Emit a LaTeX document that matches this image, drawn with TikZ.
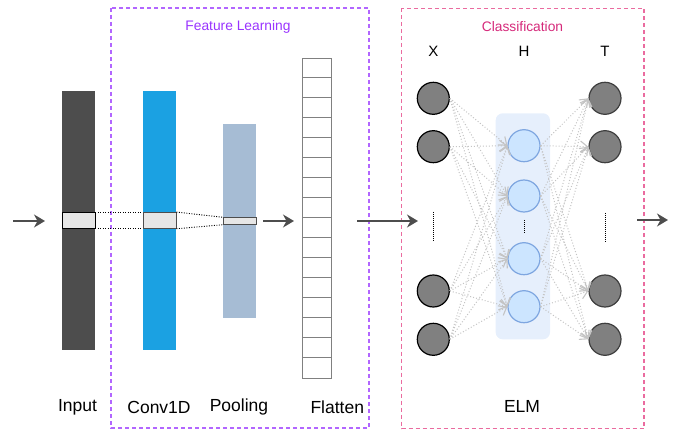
\documentclass[tikz,border=0pt]{standalone}
\usepackage{fontspec}
\setmainfont{Liberation Sans}
\usetikzlibrary{arrows.meta,calc}
\definecolor{darkbar}{HTML}{4D4D4D}
\definecolor{convblue}{HTML}{1BA1E2}
\definecolor{poolblue}{HTML}{A6BCD4}
\definecolor{lightgrey}{HTML}{E6E6E6}
\definecolor{flatgrey}{HTML}{808080}
\definecolor{featpurple}{HTML}{B266FF}
\definecolor{feattext}{HTML}{9933FF}
\definecolor{classpink}{HTML}{EA6B9F}
\definecolor{classtext}{HTML}{D5297A}
\definecolor{hfill}{HTML}{CCE5FF}
\definecolor{hdraw}{HTML}{7EA6E0}
\definecolor{hback}{HTML}{E6EFFC}
\definecolor{nodegrey}{HTML}{808080}
\definecolor{linkgrey}{HTML}{C4C4C4}
\tikzset{
  bar/.style={draw=none,inner sep=0,minimum width=33pt},
  slot/.style={draw=black,fill=lightgrey,line width=0.9pt,inner sep=0,minimum width=33pt},
  bigarrow/.style={draw=darkbar,line width=1.4pt,-{Stealth[length=11pt,width=13pt,inset=3.5pt]}},
  dotlink/.style={draw=black,line width=0.9pt,dash pattern=on 1pt off 1.5pt},
  grpbox/.style={line width=1.6pt,dash pattern=on 4pt off 3pt},
  xnode/.style={circle,draw=black,fill=nodegrey,line width=1.2pt,minimum size=32pt,inner sep=0},
  tnode/.style={circle,draw=darkbar!80!black,fill=nodegrey,line width=1.2pt,minimum size=32pt,inner sep=0},
  hnode/.style={circle,draw=hdraw,fill=hfill,line width=1.2pt,minimum size=32pt,inner sep=0},
  link/.style={draw=linkgrey,line width=1pt,dash pattern=on 1pt off 2pt,-{Straight Barb[length=7pt,width=11pt,line width=1.1pt]}},
  lbl/.style={font=\fontsize{17.5}{20}\selectfont,inner sep=0},
  collbl/.style={font=\fontsize{15}{17}\selectfont,inner sep=0},
  ttl/.style={font=\fontsize{13.8}{16}\selectfont,inner sep=0},
  vdots/.style={draw=black,line width=1pt,dash pattern=on 1pt off 1pt}
}
\begin{document}
\begin{tikzpicture}[x=1pt,y=-1pt]
\path[use as bounding box] (0,0) rectangle (689,433);
% group boxes
\draw[grpbox,draw=featpurple] (111,8) rectangle (369,428);
\node[ttl,text=feattext] (ftitle) at (238,27) {Feature Learning};
\draw[grpbox,draw=classpink] (401.5,8.5) rectangle (644,428.5);
\node[ttl,text=classtext] (ctitle) at (522.5,27) {Classification};
% bars
\node[bar,fill=darkbar,minimum height=259pt] (inbar) at (78.5,220.5) {};
\node[bar,fill=convblue,minimum height=259pt] (convbar) at (159.5,220.5) {};
\node[bar,fill=poolblue,minimum height=194pt] (poolbar) at (239.5,221) {};
\node[slot,minimum height=15.8pt] (inslot) at (78.5,220.4) {};
\node[slot,draw=darkbar,minimum height=15.8pt] (convslot) at (159.5,220.4) {};
\node[slot,draw=darkbar,minimum height=6.6pt] (poolslot) at (239.5,221) {};
\draw[dotlink] (inslot.north east) -- (convslot.north west);
\draw[dotlink] (inslot.south east) -- (convslot.south west);
\draw[dotlink] (convslot.north east) -- (poolslot.north west);
\draw[dotlink] (convslot.south east) -- (poolslot.south west);
% flatten
\node[draw=flatgrey,line width=1.3pt,inner sep=0,minimum width=28.6pt,minimum height=320pt] (flat) at (317,218.3) {};
\foreach \i in {1,...,15}{
  \draw[flatgrey,line width=1.3pt] ($(flat.north west)+(0,20*\i)$) -- ($(flat.north east)+(0,20*\i)$);
}
% arrows
\coordinate (a0) at (13,221);
\coordinate (a1) at (45,221);
\coordinate (b0) at (263,221);
\coordinate (b1) at (294,221);
\coordinate (c0) at (357,221);
\coordinate (c1) at (418,221);
\coordinate (d0) at (637,220);
\coordinate (d1) at (668,220);
\draw[bigarrow] (a0) -- (a1);
\draw[bigarrow] (b0) -- (b1);
\draw[bigarrow] (c0) -- (c1);
\draw[bigarrow] (d0) -- (d1);
% ELM
\node[collbl] (xl) at (433.3,51) {X};
\node[collbl] (hl) at (524,51) {H};
\node[collbl] (tl) at (605,51) {T};
\draw[fill=hback,draw=none,rounded corners=7pt] (495.7,113.3) rectangle (550,339.3);
\foreach \n/\y in {1/98.3,2/146.7,3/291,4/339.3}{
  \node[xnode] (x\n) at (433.3,\y) {};
  \node[tnode] (t\n) at (605,\y) {};
}
\foreach \n/\y in {1/145.7,2/196,3/258.7,4/306.7}{
  \node[hnode] (h\n) at (524,\y) {};
}
\foreach \i in {1,...,4}{
  \foreach \j in {1,...,4}{
    \draw[link] (x\i.east) -- (h\j.west);
    \draw[link] (h\i.east) -- (t\j.west);
  }
}
\coordinate (xd0) at (433.3,212);
\coordinate (xd1) at (433.3,242);
\coordinate (td0) at (605,213);
\coordinate (td1) at (605,243);
\coordinate (hd0) at (524,220);
\coordinate (hd1) at (524,234);
\draw[vdots] (xd0) -- (xd1);
\draw[vdots] (td0) -- (td1);
\draw[vdots] (hd0) -- (hd1);
% labels
\node[lbl] (linput) at (77.5,407) {Input};
\node[lbl] (lconv) at (159,407) {Conv1D};
\node[lbl] (lpool) at (239,407) {Pooling};
\node[lbl] (lflat) at (337.3,407) {Flatten};
\node[lbl] (lelm) at (522,406) {ELM};
\end{tikzpicture}
\end{document}
